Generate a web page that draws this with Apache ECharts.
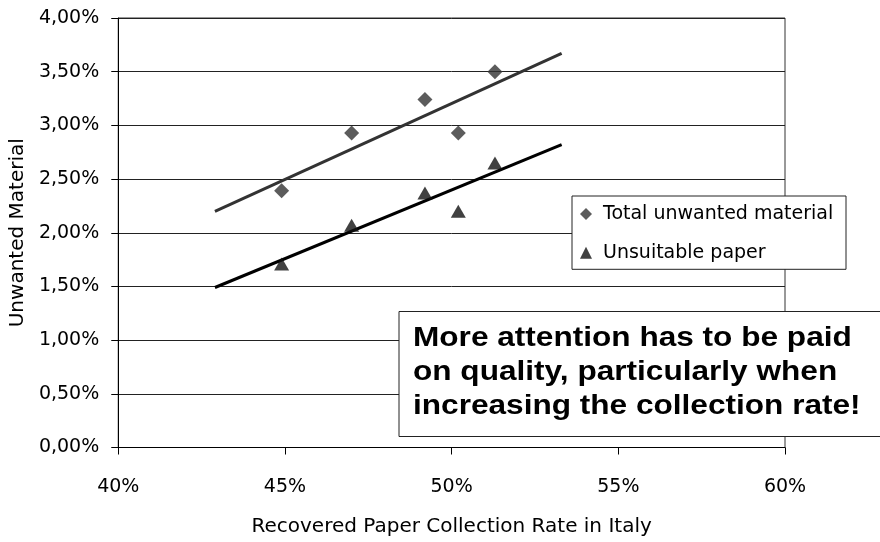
<!DOCTYPE html>
<html>
<head>
<meta charset="utf-8">
<script src="https://cdn.jsdelivr.net/npm/echarts@6/dist/echarts.min.js"></script>
<style>html,body{margin:0;padding:0;background:#fff;}#c{width:880px;height:542px;}</style>
</head>
<body>
<div id="c"></div>
<script>
// Data
var rate = [44.9, 47.0, 49.2, 50.2, 51.3];            // Recovered paper collection rate (%)
var totalUnwanted = [2.39, 2.93, 3.24, 2.93, 3.50];   // Total unwanted material (%)
var unsuitable = [1.71, 2.07, 2.37, 2.20, 2.65];      // Unsuitable paper (%)
var trendX = [42.9, 53.3];                            // trend line extent (%)
var totalTrend = [2.20, 3.67];
var unsuitableTrend = [1.49, 2.82];
var seriesNames = ['Total unwanted material', 'Unsuitable paper'];
var annotation = ['More attention has to be paid', 'on quality, particularly when', 'increasing the collection rate!'];

function pairs(xs, ys) { return xs.map(function (x, i) { return [x, ys[i]]; }); }

var labelFont = 'DejaVu Sans';
var chart = echarts.init(document.getElementById('c'));
chart.setOption({
  animation: false,
  backgroundColor: '#fff',
  grid: { left: 118, right: 95, top: 18, bottom: 94.5, show: true, borderColor: '#333', borderWidth: 1, backgroundColor: 'transparent' },
  xAxis: {
    type: 'value', min: 40, max: 60, interval: 5,
    name: 'Recovered Paper Collection Rate in Italy', nameLocation: 'middle', nameGap: 69,
    nameTextStyle: { fontFamily: labelFont, fontSize: 20, color: '#000' },
    axisLine: { show: true, lineStyle: { color: '#000', width: 1 } },
    axisTick: { show: true, length: 7, lineStyle: { color: '#000' } },
    axisLabel: { margin: 30, fontFamily: labelFont, fontSize: 19, color: '#000', formatter: function (v) { return v + '%'; } },
    splitLine: { show: false }
  },
  yAxis: {
    type: 'value', min: 0, max: 4, interval: 0.5,
    name: 'Unwanted Material', nameLocation: 'middle', nameGap: 87, nameRotate: 90,
    nameTextStyle: { fontFamily: labelFont, fontSize: 20, color: '#000' },
    axisLine: { show: true, lineStyle: { color: '#000', width: 1 } },
    axisTick: { show: true, length: 7, lineStyle: { color: '#000' } },
    axisLabel: { margin: 19, fontFamily: labelFont, fontSize: 19, color: '#000', formatter: function (v) { return v.toFixed(2).replace('.', ',') + '%'; } },
    splitLine: { show: true, lineStyle: { color: '#222', width: 1 } }
  },
  legend: {
    data: [{ name: seriesNames[0], icon: 'diamond' }, { name: seriesNames[1], icon: 'triangle' }],
    orient: 'vertical', left: 572, top: 196,
    itemWidth: 12, itemHeight: 12, itemGap: 16.7,
    padding: [7, 7, 5.6, 8],
    backgroundColor: '#fff', borderColor: '#222', borderWidth: 1, borderRadius: 0,
    textStyle: { fontFamily: labelFont, fontSize: 19, lineHeight: 22, color: '#000', padding: [0, 0, 0, 6], width: 236, overflow: 'none' },
    z: 20
  },
  series: [
    { name: seriesNames[0] + ' trend', type: 'line', data: pairs(trendX, totalTrend), symbol: 'none', lineStyle: { color: '#333', width: 3 }, z: 2 },
    { name: seriesNames[1] + ' trend', type: 'line', data: pairs(trendX, unsuitableTrend), symbol: 'none', lineStyle: { color: '#000', width: 3 }, z: 2 },
    { name: seriesNames[0], type: 'scatter', data: pairs(rate, totalUnwanted), symbol: 'diamond', symbolSize: [15, 15], itemStyle: { color: '#333' }, z: 3 },
    { name: seriesNames[1], type: 'scatter', data: pairs(rate, unsuitable), symbol: 'triangle', symbolSize: [15, 13], itemStyle: { color: '#111' }, z: 3 }
  ],
  graphic: [
    { type: 'rect', z: 100, zlevel: 1, shape: { x: 399, y: 311.5, width: 500, height: 125 }, style: { fill: '#fff', stroke: '#222', lineWidth: 1 } },
    { type: 'text', z: 101, zlevel: 1, x: 413, y: 321.5, scaleX: 1.17, style: { text: annotation.join('\n'), font: 'bold 27px "Liberation Sans", Arial, sans-serif', fill: '#000', lineHeight: 34, textVerticalAlign: 'top' } }
  ]
});
</script>
</body>
</html>
